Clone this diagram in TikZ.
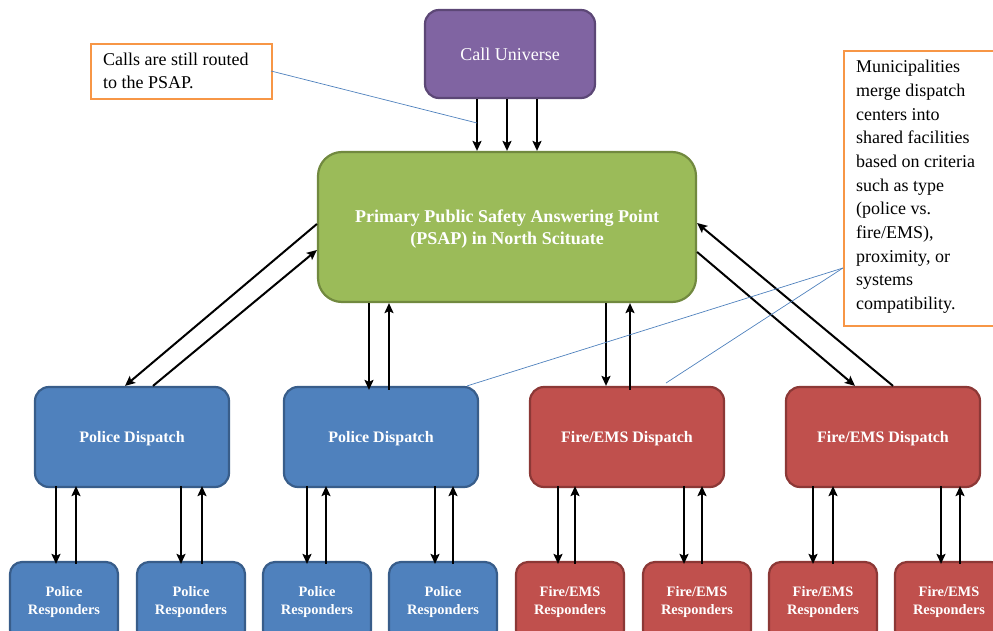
\documentclass[tikz,border=0pt]{standalone}
\usepackage{fontspec}
\setmainfont{Liberation Serif}
\usetikzlibrary{arrows.meta}
\definecolor{purp}{HTML}{8064A2}\definecolor{purpd}{HTML}{5C4776}
\definecolor{grn}{HTML}{9BBB59}\definecolor{grnd}{HTML}{71893F}
\definecolor{blu}{HTML}{4F81BD}\definecolor{blud}{HTML}{385D8A}
\definecolor{redf}{HTML}{C0504D}\definecolor{redd}{HTML}{8C3836}
\definecolor{orng}{HTML}{F79646}
\tikzset{
  box/.style={rounded corners=14pt, line width=2.2pt, text=white, align=center, inner sep=0pt},
  disp/.style={box, minimum width=194pt, minimum height=100pt, text depth=0pt, font=\fontsize{16}{19}\selectfont\bfseries},
  callout/.style={draw=orng, line width=1.6pt, fill=white, align=left, inner sep=0pt, anchor=north west},
  arr/.style={line width=2pt, -{Stealth[length=10pt,width=9pt,inset=2pt]}},
  lead/.style={draw=blu, line width=0.7pt},
}
\begin{document}
\begin{tikzpicture}[x=1pt,y=-1pt]
\useasboundingbox (0,0) rectangle (993,631);
% main nodes
\node[box, fill=purp, draw=purpd, minimum width=170pt, minimum height=88pt, font=\fontsize{18}{21}\selectfont] (cu) at (510,54) {Call Universe};
\node[box, fill=grn, draw=grnd, rounded corners=24pt, minimum width=378pt, minimum height=150pt, text depth=0pt, font=\fontsize{18}{21.5}\selectfont\bfseries] (psap) at (507,227) {Primary Public Safety Answering Point\\(PSAP) in North Scituate};
\node[disp, fill=blu, draw=blud] (pd1) at (132,437) {Police Dispatch};
\node[disp, fill=blu, draw=blud] (pd2) at (381,437) {Police Dispatch};
\node[disp, fill=redf, draw=redd] (fd1) at (627,437) {Fire/EMS Dispatch};
\node[disp, fill=redf, draw=redd] (fd2) at (883,437) {Fire/EMS Dispatch};
% responders
\tikzset{resp/.style={box, rounded corners=12pt, minimum width=108pt, minimum height=80pt, font=\fontsize{14.4}{18}\selectfont\bfseries}}
\node[resp, fill=blu, draw=blud] (r1) at (64,602) {Police\\Responders};
\node[resp, fill=blu, draw=blud] (r2) at (191,602) {Police\\Responders};
\node[resp, fill=blu, draw=blud] (r3) at (317,602) {Police\\Responders};
\node[resp, fill=blu, draw=blud] (r4) at (443,602) {Police\\Responders};
\node[resp, fill=redf, draw=redd] (r5) at (570,602) {Fire/EMS\\Responders};
\node[resp, fill=redf, draw=redd] (r6) at (697,602) {Fire/EMS\\Responders};
\node[resp, fill=redf, draw=redd] (r7) at (823,602) {Fire/EMS\\Responders};
\node[resp, fill=redf, draw=redd] (r8) at (949,602) {Fire/EMS\\Responders};
% call universe to PSAP
\foreach \x in {477,507,537}{
  \draw[arr] (cu.south -| \x,0) -- (psap.north -| \x,0);
}
% PSAP <-> dispatch
\draw[arr] (psap.west |- 0,224) -- ([xshift=-7pt]pd1.north);
\draw[arr] ([xshift=21pt]pd1.north) -- (psap.west |- 0,250);
\draw[arr] (psap.south -| 369,0) -- ([yshift=-4pt]pd2.north -| 369,0);
\draw[arr] ([yshift=-4pt]pd2.north -| 389,0) -- (psap.south -| 389,0);
\draw[arr] (psap.south -| 606,0) -- (fd1.north -| 606,0);
\draw[arr] ([yshift=-4pt]fd1.north -| 630,0) -- (psap.south -| 630,0);
\draw[arr] (psap.east |- 0,252) -- ([xshift=-28pt]fd2.north);
\draw[arr] ([xshift=10pt]fd2.north) -- (psap.east |- 0,223);
% dispatch <-> responders
\foreach \d/\r/\a/\b in {pd1/r1/56/76, pd1/r2/181/202, pd2/r3/307/326, pd2/r4/435/453, fd1/r5/558/575, fd1/r6/684/702, fd2/r7/813/833, fd2/r8/941/960}{
  \draw[arr] ([yshift=2pt]\d.south -| \a,0) -- ([yshift=-3pt]\r.north -| \a,0);
  \draw[arr] ([yshift=-3pt]\r.north -| \b,0) -- ([yshift=2pt]\d.south -| \b,0);
}
% callouts
\node[callout, minimum width=181pt, minimum height=55pt] (c1) at (90,43) {};
\node[anchor=north west, align=left, inner sep=0pt, font=\fontsize{18}{23}\selectfont] (c1t) at (103,53) {Calls are still routed\\to the PSAP.};
\node[callout, minimum width=160pt, minimum height=275pt] (c2) at (843,50) {};
\node[anchor=north west, align=left, inner sep=0pt, font=\fontsize{18}{23.7}\selectfont] (c2t) at (856,60) {Municipalities\\merge dispatch\\centers into\\shared facilities\\based on criteria\\such as type\\(police vs.\\fire/EMS),\\proximity, or\\systems\\compatibility.};
\coordinate (c1p) at (271,71);
\coordinate (cua) at (477,123);
\coordinate (c2p) at (843,268);
\draw[lead] (c1p) -- (cua);
\draw[lead] (c2p) -- ([xshift=-12pt]pd2.north east);
\draw[lead] (c2p) -- (666,383);
\end{tikzpicture}
\end{document}
